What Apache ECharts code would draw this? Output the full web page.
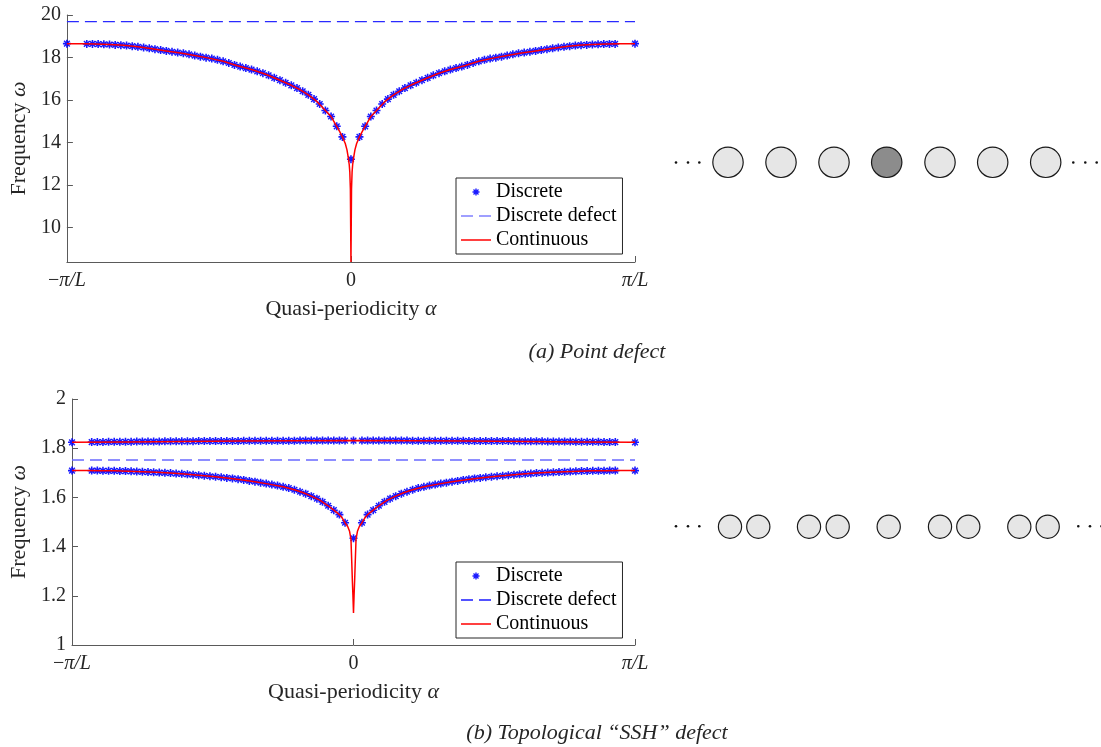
<!DOCTYPE html>
<html>
<head>
<meta charset="utf-8">
<script src="https://cdn.jsdelivr.net/npm/echarts@6/dist/echarts.min.js"></script>
<style>
  html, body { margin: 0; padding: 0; background: #fff; }
  #chart { width: 1101px; height: 747px; }
</style>
</head>
<body>
<div id="chart"></div>
<script>
// quasi-periodicity in units of pi/L
const alphaDiscrete = [-1, -0.93, -0.91, -0.89, -0.87, -0.85, -0.83, -0.81, -0.79, -0.77, -0.75, -0.73, -0.71, -0.69, -0.67, -0.65,
  -0.63, -0.61, -0.59, -0.57, -0.55, -0.53, -0.51, -0.49, -0.47, -0.45, -0.43, -0.41, -0.39, -0.37, -0.35, -0.33,
  -0.31, -0.29, -0.27, -0.25, -0.23, -0.21, -0.19, -0.17, -0.15, -0.13, -0.11, -0.09, -0.07, -0.05, -0.03,
  0,
  0.03, 0.05, 0.07, 0.09, 0.11, 0.13, 0.15, 0.17, 0.19, 0.21, 0.23, 0.25, 0.27, 0.29, 0.31, 0.33,
  0.35, 0.37, 0.39, 0.41, 0.43, 0.45, 0.47, 0.49, 0.51, 0.53, 0.55, 0.57, 0.59, 0.61, 0.63, 0.65,
  0.67, 0.69, 0.71, 0.73, 0.75, 0.77, 0.79, 0.81, 0.83, 0.85, 0.87, 0.89, 0.91, 0.93, 1];

// (a) point defect, discrete model
const omegaPoint = [18.65, 18.64, 18.64, 18.63, 18.62, 18.61, 18.59, 18.58, 18.56, 18.53, 18.50, 18.47, 18.43, 18.39, 18.35, 18.31,
  18.27, 18.23, 18.20, 18.15, 18.09, 18.04, 17.99, 17.95, 17.89, 17.82, 17.74, 17.65, 17.57, 17.50, 17.43, 17.35,
  17.26, 17.16, 17.04, 16.93, 16.81, 16.69, 16.56, 16.41, 16.24, 16.04, 15.81, 15.50, 15.22, 14.76, 14.26,
  13.21,
  14.26, 14.76, 15.22, 15.50, 15.81, 16.04, 16.24, 16.41, 16.56, 16.69, 16.81, 16.93, 17.04, 17.16, 17.26, 17.35,
  17.43, 17.50, 17.57, 17.65, 17.74, 17.82, 17.89, 17.95, 17.99, 18.04, 18.09, 18.15, 18.20, 18.23, 18.27, 18.31,
  18.35, 18.39, 18.43, 18.47, 18.50, 18.53, 18.56, 18.58, 18.59, 18.61, 18.62, 18.63, 18.64, 18.64, 18.65];

// (b) SSH defect, discrete model, lower and upper bands
const omegaSshLow = [1.709, 1.709, 1.709, 1.708, 1.708, 1.708, 1.707, 1.707, 1.706, 1.705, 1.704, 1.703, 1.702, 1.701, 1.700, 1.699,
  1.697, 1.696, 1.694, 1.692, 1.690, 1.688, 1.686, 1.684, 1.682, 1.679, 1.677, 1.674, 1.671, 1.667, 1.664, 1.660,
  1.656, 1.652, 1.648, 1.643, 1.638, 1.631, 1.623, 1.615, 1.605, 1.595, 1.582, 1.566, 1.548, 1.530, 1.497,
  1.434,
  1.497, 1.530, 1.548, 1.566, 1.582, 1.595, 1.605, 1.615, 1.623, 1.631, 1.638, 1.643, 1.648, 1.652, 1.656, 1.660,
  1.664, 1.667, 1.671, 1.674, 1.677, 1.679, 1.682, 1.684, 1.686, 1.688, 1.690, 1.692, 1.694, 1.696, 1.697, 1.699,
  1.700, 1.701, 1.702, 1.703, 1.704, 1.705, 1.706, 1.707, 1.707, 1.708, 1.708, 1.708, 1.709, 1.709, 1.709];
const omegaSshHigh = [1.824, 1.825, 1.825, 1.825, 1.826, 1.826, 1.826, 1.826, 1.826, 1.827, 1.827, 1.827, 1.827, 1.827, 1.828, 1.828,
  1.828, 1.828, 1.828, 1.828, 1.829, 1.829, 1.829, 1.829, 1.829, 1.829, 1.829, 1.829, 1.830, 1.830, 1.830, 1.830,
  1.830, 1.830, 1.830, 1.830, 1.830, 1.830, 1.831, 1.831, 1.831, 1.831, 1.831, 1.831, 1.831, 1.831, 1.831,
  1.831,
  1.831, 1.831, 1.831, 1.831, 1.831, 1.831, 1.831, 1.831, 1.831, 1.830, 1.830, 1.830, 1.830, 1.830, 1.830, 1.830,
  1.830, 1.830, 1.830, 1.829, 1.829, 1.829, 1.829, 1.829, 1.829, 1.829, 1.829, 1.828, 1.828, 1.828, 1.828, 1.828,
  1.828, 1.827, 1.827, 1.827, 1.827, 1.827, 1.826, 1.826, 1.826, 1.826, 1.826, 1.825, 1.825, 1.825, 1.824];

// continuous model
const alphaCont = [-1, -0.95, -0.9, -0.85, -0.8, -0.75, -0.7, -0.65, -0.6, -0.55, -0.5, -0.45, -0.4, -0.35, -0.3, -0.25,
  -0.21, -0.18, -0.15, -0.12, -0.09, -0.07, -0.05, -0.04, -0.03, -0.02, -0.014, -0.009, -0.006, -0.004, -0.002,
  0,
  0.002, 0.004, 0.006, 0.009, 0.014, 0.02, 0.03, 0.04, 0.05, 0.07, 0.09, 0.12, 0.15, 0.18, 0.21,
  0.25, 0.3, 0.35, 0.4, 0.45, 0.5, 0.55, 0.6, 0.65, 0.7, 0.75, 0.8, 0.85, 0.9, 0.95, 1];
const omegaPointCont = [18.65, 18.645, 18.635, 18.61, 18.57, 18.50, 18.41, 18.31, 18.21, 18.09, 17.97, 17.82, 17.61, 17.43, 17.21, 16.93,
  16.69, 16.49, 16.24, 15.93, 15.50, 15.22, 14.76, 14.52, 14.26, 13.95, 13.65, 13.25, 12.95, 12.6, 11.8,
  8.37,
  11.8, 12.6, 12.95, 13.25, 13.65, 13.95, 14.26, 14.52, 14.76, 15.22, 15.50, 15.93, 16.24, 16.49, 16.69,
  16.93, 17.21, 17.43, 17.61, 17.82, 17.97, 18.09, 18.21, 18.31, 18.41, 18.50, 18.57, 18.61, 18.635, 18.645, 18.65];
const omegaSshLowCont = [1.709, 1.709, 1.708, 1.708, 1.706, 1.704, 1.702, 1.699, 1.695, 1.690, 1.685, 1.679, 1.672, 1.664, 1.654, 1.643,
  1.631, 1.620, 1.605, 1.589, 1.566, 1.548, 1.530, 1.516, 1.497, 1.480, 1.462, 1.430, 1.330, 1.260, 1.200,
  1.130,
  1.200, 1.260, 1.330, 1.430, 1.462, 1.480, 1.497, 1.516, 1.530, 1.548, 1.566, 1.589, 1.605, 1.620, 1.631,
  1.643, 1.654, 1.664, 1.672, 1.679, 1.685, 1.690, 1.695, 1.699, 1.702, 1.704, 1.706, 1.708, 1.708, 1.709, 1.709];
const alphaFlat = [-1, -0.8, -0.6, -0.4, -0.2, 0, 0.2, 0.4, 0.6, 0.8, 1];
const omegaSshHighCont = [1.824, 1.825, 1.827, 1.829, 1.830, 1.831, 1.830, 1.829, 1.827, 1.825, 1.824];

// defect frequencies (horizontal dashed lines)
const alphaEnds = [-1, 1];
const defectPoint = [19.69, 19.69];
const defectSsh = [1.752, 1.752];

const xTickValues = [-1, 0, 1];
const xTickLabels = ['{n|−}{i|π/L}', '{n|0}', '{i|π/L}'];

const serif = "'Liberation Serif', 'Times New Roman', serif";
const ink = '#262626';
const axisGrey = '#5a5a5a';
// MATLAB-like '*' marker
const asterisk = 'path://M2 8.4L18 8.4L18 11.6L2 11.6Z M8.4 2L11.6 2L11.6 18L8.4 18Z ' +
  'M3.3 5.3L5.3 3.3L16.7 14.7L14.7 16.7Z M14.7 3.3L16.7 5.3L5.3 16.7L3.3 14.7Z';
// legend keys for the line series (solid and dashed strokes)
const keySolid = 'path://M0 0H30V1.5H0Z';
const keyDashed = 'path://M0 0H12V1.3H0Z M18 0H30V1.3H18Z';

const pairs = (xs, ys) => xs.map((x, i) => [x, ys[i]]);

const richText = {
  n: { fontFamily: serif, fontSize: 20, color: ink },
  i: { fontFamily: serif, fontSize: 20, color: ink, fontStyle: 'italic' }
};
const richName = {
  n: { fontFamily: serif, fontSize: 22, color: ink },
  i: { fontFamily: serif, fontSize: 22, color: ink, fontStyle: 'italic' }
};

const makeX = (gridIndex) => ({
  type: 'value', gridIndex, min: -1, max: 1, interval: 1,
  name: '{n|Quasi-periodicity }{i|α}', nameLocation: 'middle', nameGap: 36,
  nameTextStyle: { rich: richName },
  axisLine: { show: true, onZero: false, lineStyle: { color: axisGrey, width: 1 } },
  axisTick: { show: true, inside: true, length: 6, lineStyle: { color: axisGrey } },
  splitLine: { show: false },
  axisLabel: {
    margin: 9,
    formatter: (v) => {
      const k = xTickValues.indexOf(v);
      return k < 0 ? '' : xTickLabels[k];
    },
    rich: richText
  }
});

const makeY = (gridIndex, extra, gap) => Object.assign({
  type: 'value', gridIndex,
  name: '{n|Frequency }{i|ω}', nameLocation: 'middle', nameGap: gap,
  nameTextStyle: { rich: richName },
  axisLine: { show: true, onZero: false, lineStyle: { color: axisGrey, width: 1 } },
  axisTick: { show: true, inside: true, length: 6, lineStyle: { color: axisGrey } },
  splitLine: { show: false },
  axisLabel: { margin: 6, fontFamily: serif, fontSize: 20, color: ink }
}, extra);

const legendBox = (top, dashColor) => ({
  left: 456, top, orient: 'vertical', selectedMode: false,
  backgroundColor: '#fff', borderColor: ink, borderWidth: 1, borderRadius: 0,
  padding: [4, 6, 4, 5], itemWidth: 30, itemHeight: 7, itemGap: 4,
  textStyle: { fontFamily: serif, fontSize: 20, color: '#000' },
  data: [
    { name: 'Discrete' },
    { name: 'Discrete defect', icon: keyDashed, itemStyle: { color: dashColor } },
    { name: 'Continuous', icon: keySolid, itemStyle: { color: '#ff0000' } }
  ]
});

const circleStyle = (fill) => ({ fill, stroke: '#1a1a1a', lineWidth: 1.2 });
const elements = [];
// chain sketches
[728, 781, 834, 886.7, 940, 992.7, 1045.7].forEach((cx, i) => {
  elements.push({ type: 'circle', shape: { cx, cy: 162.3, r: 15.2 }, style: circleStyle(i === 3 ? '#8c8c8c' : '#e6e6e6') });
});
[730, 758.3, 809, 837.7, 888.7, 940, 968.3, 1019.3, 1047.7].forEach((cx) => {
  elements.push({ type: 'circle', shape: { cx, cy: 526.7, r: 11.6 }, style: circleStyle('#e6e6e6') });
});
[676, 688, 699.3, 1073.3, 1085.3, 1096.7].forEach((cx) => {
  elements.push({ type: 'circle', shape: { cx, cy: 162.5, r: 1.3 }, style: { fill: '#111' } });
});
[676, 688, 699.3, 1078.3, 1090, 1101.5].forEach((cx) => {
  elements.push({ type: 'circle', shape: { cx, cy: 526.3, r: 1.3 }, style: { fill: '#111' } });
});
// captions
[['(a) Point defect', 352], ['(b) Topological “SSH” defect', 733]].forEach(([text, y]) => {
  elements.push({
    type: 'text', x: 597, y,
    style: { text, fill: ink, font: 'italic 22px ' + serif, align: 'center', verticalAlign: 'middle' }
  });
});

const chart = echarts.init(document.getElementById('chart'));
chart.setOption({
  animation: false,
  backgroundColor: '#fff',
  grid: [
    { left: 66, right: 466, top: 15, bottom: 485 },
    { left: 72, right: 466, top: 399, bottom: 102 }
  ],
  xAxis: [makeX(0), makeX(1)],
  yAxis: [
    makeY(0, {
      min: 8.37, max: 20,
      axisLabel: {
        margin: 6, fontFamily: serif, fontSize: 20, color: ink, showMinLabel: false,
        formatter: (v) => (Number.isInteger(v) ? String(v) : '')
      }
    }, 33),
    makeY(1, { min: 1, max: 2, interval: 0.2 }, 39)
  ],
  legend: [legendBox(178, '#8080ff'), legendBox(562, '#1a1aff')],
  graphic: { elements },
  series: [
    {
      name: 'Discrete', type: 'scatter', xAxisIndex: 0, yAxisIndex: 0,
      data: pairs(alphaDiscrete, omegaPoint),
      symbol: asterisk, symbolSize: 8,
      itemStyle: { color: '#0000ff', opacity: 0.9 }
    },
    {
      name: 'Discrete defect', type: 'line', xAxisIndex: 0, yAxisIndex: 0,
      data: pairs(alphaEnds, defectPoint), symbol: 'none',
      lineStyle: { color: '#2a2aff', width: 1.3, type: [12, 6] }
    },
    {
      name: 'Continuous', type: 'line', xAxisIndex: 0, yAxisIndex: 0,
      data: pairs(alphaCont, omegaPointCont), symbol: 'none', clip: true,
      lineStyle: { color: '#ff0000', width: 1.5 }
    },
    {
      name: 'Discrete', type: 'scatter', xAxisIndex: 1, yAxisIndex: 1,
      data: pairs(alphaDiscrete, omegaSshLow).concat(pairs(alphaDiscrete, omegaSshHigh)),
      symbol: asterisk, symbolSize: 8,
      itemStyle: { color: '#0000ff', opacity: 0.9 }
    },
    {
      name: 'Discrete defect', type: 'line', xAxisIndex: 1, yAxisIndex: 1,
      data: pairs(alphaEnds, defectSsh), symbol: 'none',
      lineStyle: { color: '#6a6aff', width: 1.3, type: [12, 6] }
    },
    {
      name: 'Continuous', type: 'line', xAxisIndex: 1, yAxisIndex: 1,
      data: pairs(alphaCont, omegaSshLowCont), symbol: 'none', clip: true,
      lineStyle: { color: '#ff0000', width: 1.5 }
    },
    {
      name: 'Continuous', type: 'line', xAxisIndex: 1, yAxisIndex: 1,
      data: pairs(alphaFlat, omegaSshHighCont), symbol: 'none',
      lineStyle: { color: '#ff0000', width: 1.5 }
    }
  ]
});
</script>
</body>
</html>
